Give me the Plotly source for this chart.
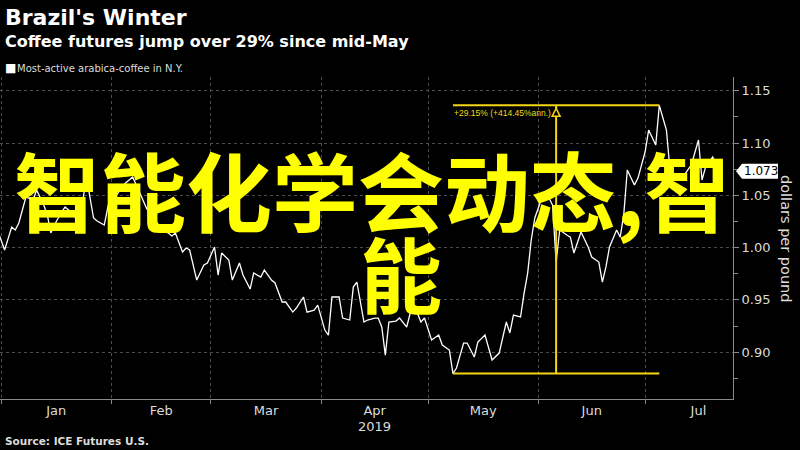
import plotly.graph_objects as go

# ---------------- data ----------------
dates = ["2018-12-31","2019-01-02","2019-01-04","2019-01-05","2019-01-06","2019-01-08","2019-01-10","2019-01-11","2019-01-13","2019-01-14","2019-01-15","2019-01-16","2019-01-18","2019-01-19","2019-01-20","2019-01-22","2019-01-24","2019-01-25","2019-01-27","2019-01-28","2019-01-30",
         "2019-02-01","2019-02-02","2019-02-04","2019-02-05","2019-02-07","2019-02-09","2019-02-11","2019-02-12","2019-02-14","2019-02-16","2019-02-17","2019-02-18","2019-02-19","2019-02-21","2019-02-22","2019-02-23","2019-02-25","2019-02-27","2019-02-28",
         "2019-03-02","2019-03-03","2019-03-04","2019-03-06","2019-03-07","2019-03-09","2019-03-10","2019-03-12","2019-03-13","2019-03-15","2019-03-16","2019-03-18","2019-03-19","2019-03-21","2019-03-22","2019-03-24","2019-03-25","2019-03-27","2019-03-28","2019-03-30","2019-03-31",
         "2019-04-02","2019-04-03","2019-04-04","2019-04-06","2019-04-07","2019-04-09","2019-04-10","2019-04-11","2019-04-13","2019-04-14","2019-04-16","2019-04-17","2019-04-18","2019-04-19","2019-04-20","2019-04-22","2019-04-23","2019-04-25","2019-04-26","2019-04-28","2019-04-29","2019-04-30",
         "2019-05-02","2019-05-04","2019-05-05","2019-05-07","2019-05-08","2019-05-09","2019-05-11","2019-05-12","2019-05-14","2019-05-15","2019-05-17","2019-05-19","2019-05-21","2019-05-23","2019-05-24","2019-05-25","2019-05-27","2019-05-28","2019-05-29","2019-05-30","2019-05-31",
         "2019-06-01","2019-06-02","2019-06-04","2019-06-05","2019-06-06","2019-06-07","2019-06-09","2019-06-10","2019-06-11","2019-06-13","2019-06-15","2019-06-16","2019-06-18","2019-06-19","2019-06-20","2019-06-21","2019-06-23","2019-06-24","2019-06-25","2019-06-26","2019-06-28","2019-06-29",
         "2019-07-01","2019-07-02","2019-07-04","2019-07-05","2019-07-07","2019-07-08","2019-07-09","2019-07-11","2019-07-12","2019-07-14","2019-07-16","2019-07-17","2019-07-18","2019-07-20","2019-07-22"]

prices = [1.0168,0.9977,1.0197,1.0168,1.0235,1.0484,1.0455,1.0551,1.0407,1.0312,1.0140,1.0216,1.0340,1.0388,1.0359,1.0283,1.0455,1.0675,1.0283,1.0254,1.0216,
          1.0551,1.0484,1.0570,1.0618,1.0675,1.0522,1.0369,1.0340,1.0226,1.0149,1.0140,1.0111,1.0140,0.9958,0.9996,0.9977,0.9690,0.9834,0.9853,
          1.0006,0.9738,0.9948,0.9882,0.9690,0.9853,0.9738,0.9604,0.9757,0.9719,0.9786,0.9690,0.9662,0.9480,0.9480,0.9384,0.9423,0.9528,0.9384,0.9403,0.9451,
          0.9212,0.9164,0.9528,0.9528,0.9327,0.9308,0.9623,0.9671,0.9289,0.9308,0.9327,0.9327,0.9241,0.8973,0.9289,0.9298,0.9327,0.9241,0.9375,0.9375,0.9289,0.9327,
          0.9117,0.9164,0.9069,0.9021,0.8796,0.8849,0.9088,0.9088,0.8954,0.9098,0.9164,0.8926,0.8992,0.9289,0.9184,0.9356,0.9337,0.9566,0.9757,1.0073,1.0283,
          1.0379,1.0484,1.0474,1.0407,0.9862,1.0168,1.0120,1.0101,0.9948,1.0149,1.0006,0.9910,0.9862,0.9671,0.9815,1.0006,1.0168,1.0101,1.0312,1.0742,1.0598,1.0665,
          1.0914,1.1124,1.0981,1.1360,1.1124,1.0742,1.0713,1.0646,1.0694,1.0790,1.1029,1.0646,1.0771,1.0866,1.0730]

assert len(dates) == len(prices)

low_date, high_date, mid_date = "2019-05-08", "2019-07-05", "2019-06-06"
low_val, high_val = 0.8796, 1.1360
last_val = 1.073

title = "Brazil's Winter"
subtitle = "Coffee futures jump over 29% since mid-May"
legend_label = "Most-active arabica-coffee in N.Y."
source = "Source: ICE Futures U.S."
change_label = "+29.15% (+414.45%ann.)"
y_title = "dollars per pound"
year_label = "2019"
overlay_line1 = "智能化学会动态,智"
overlay_line2 = "能"

# ---------------- layout helpers ----------------
W, H = 800, 450
ML, MR, MT, MB = 0, 67, 77, 51
PW, PH = W - ML - MR, H - MT - MB

def py(p):
    return (H - MB - p) / PH

def px(p):
    return (p - ML) / PW

FONT = "DejaVu Sans"
YELLOW = "#F5D614"
GRID = "#4d4d4d"
AXIS = "#8a8a8a"
TXT = "#dcdcdc"

fig = go.Figure()
fig.add_trace(go.Scatter(x=dates, y=prices, mode="lines",
                         line=dict(color="white", width=1.3),
                         hoverinfo="skip", showlegend=False))

shapes = [
    dict(type="line", xref="x", yref="y", x0=low_date, x1=high_date, y0=high_val, y1=high_val,
         line=dict(color=YELLOW, width=2)),
    dict(type="line", xref="x", yref="y", x0=low_date, x1=high_date, y0=low_val, y1=low_val,
         line=dict(color=YELLOW, width=2)),
    dict(type="line", xref="x", yref="y", x0=mid_date, x1=mid_date, y0=low_val, y1=high_val,
         line=dict(color=YELLOW, width=2)),
    dict(type="path", xref="x", yref="y", xsizemode="pixel", ysizemode="pixel",
         xanchor=mid_date, yanchor=high_val, path="M -4 -11 L 0 -3 L 4 -11 Z",
         line=dict(color=YELLOW, width=1.5), fillcolor="black"),
    dict(type="path", xref="paper", yref="y", xsizemode="pixel", ysizemode="pixel",
         xanchor=1, yanchor=last_val, path="M 3 0 L 9 7.5 L 45 7.5 L 45 -7.5 L 9 -7.5 Z",
         line=dict(width=0), fillcolor="white"),
]

annotations = [
    dict(text=f"<b>{title}</b>", xref="paper", yref="paper", x=px(3), y=py(17),
         xanchor="left", yanchor="middle", showarrow=False,
         font=dict(family=FONT, size=22, color="white")),
    dict(text=f"<b>{subtitle}</b>", xref="paper", yref="paper", x=px(3), y=py(42),
         xanchor="left", yanchor="middle", showarrow=False,
         font=dict(family=FONT, size=16, color="white")),
    dict(text="■", xref="paper", yref="paper", x=px(3), y=py(68),
         xanchor="left", yanchor="middle", showarrow=False,
         font=dict(family=FONT, size=12, color="white")),
    dict(text=legend_label, xref="paper", yref="paper", x=px(15), y=py(68),
         xanchor="left", yanchor="middle", showarrow=False,
         font=dict(family=FONT, size=10, color=TXT)),
    dict(text=f"<b>{source}</b>", xref="paper", yref="paper", x=px(3), y=py(441),
         xanchor="left", yanchor="middle", showarrow=False,
         font=dict(family=FONT, size=10.5, color=TXT)),
    dict(text=year_label, xref="x", yref="paper", x="2019-04-16", y=py(426),
         xanchor="center", yanchor="middle", showarrow=False,
         font=dict(family=FONT, size=13, color=TXT)),
    dict(text=y_title, xref="paper", yref="paper", x=px(786), y=py(239),
         xanchor="center", yanchor="middle", textangle=90, showarrow=False,
         font=dict(family=FONT, size=14.5, color=TXT)),
    dict(text=change_label, xref="x", yref="y", x=low_date, y=high_val,
         xanchor="left", yanchor="top", yshift=-1, xshift=-1, showarrow=False,
         font=dict(family="Liberation Sans", size=8.5, color=YELLOW)),
    dict(text=f"{last_val:.3f}", xref="paper", yref="y", x=1, y=last_val,
         xanchor="left", yanchor="middle", xshift=9, showarrow=False,
         font=dict(family=FONT, size=12, color="black")),
    dict(text=overlay_line1, xref="paper", yref="paper", x=px(372), y=py(188),
         xanchor="center", yanchor="middle", showarrow=False,
         font=dict(family="Noto Sans CJK SC", size=86, color="#FFFF00", weight="bold")),
    dict(text=overlay_line2, xref="paper", yref="paper", x=px(401), y=py(271),
         xanchor="center", yanchor="middle", showarrow=False,
         font=dict(family="Noto Sans CJK SC", size=82, color="#FFFF00", weight="bold")),
]

fig.update_layout(
    width=W, height=H,
    margin=dict(l=ML, r=MR, t=MT, b=MB, pad=0),
    paper_bgcolor="black", plot_bgcolor="black",
    showlegend=False,
    shapes=shapes, annotations=annotations,
    xaxis=dict(type="date", range=["2018-12-31 17:00", "2019-07-25 17:00"],
               dtick="M1", tick0="2019-01-01", ticklabelmode="period", tickformat="%b",
               ticks="outside", ticklen=4, tickcolor=AXIS, ticklabelstandoff=-5,
               showline=True, linecolor=AXIS, linewidth=1,
               showgrid=True, gridcolor=GRID, griddash="dot", gridwidth=1,
               zeroline=False, tickfont=dict(family=FONT, size=13, color=TXT)),
    yaxis=dict(side="right", range=[0.8553, 1.1631], dtick=0.05, tick0=0.9, tickformat=".2f",
               ticks="outside", ticklen=5, tickcolor=AXIS,
               showline=True, linecolor=AXIS, linewidth=1,
               showgrid=True, gridcolor=GRID, griddash="dot", gridwidth=1,
               zeroline=False, tickfont=dict(family=FONT, size=13, color=TXT),
               minor=dict(dtick=0.025, tick0=0.9, ticks="outside", ticklen=4, tickcolor=AXIS, showgrid=False)),
)

fig.write_html("out.html",
               config={"displayModeBar": False},
               post_script="document.body.style.margin='0';document.body.style.background='black';")
